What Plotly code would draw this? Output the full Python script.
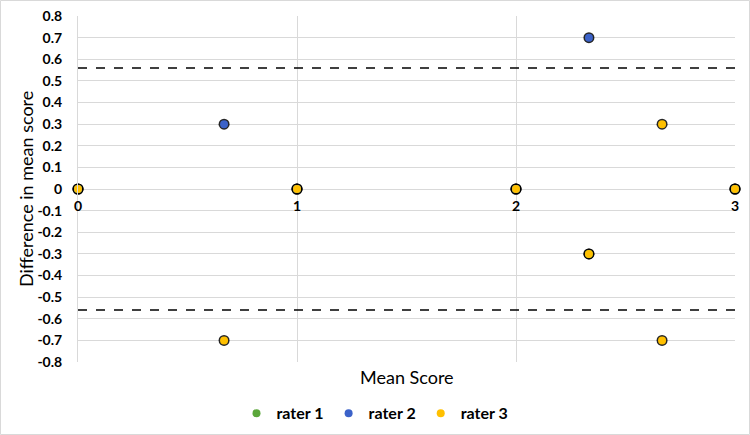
import plotly.graph_objects as go

# Data: (mean score, difference in mean score) per rater
rater1_mean = [0, 1, 2, 3, 2.333]
rater1_diff = [0, 0, 0, 0, -0.3]
rater2_mean = [0.667, 2.333, 0, 1, 2, 3]
rater2_diff = [0.3, 0.7, 0, 0, 0, 0]
rater3_mean = [0, 0.667, 1, 2, 2.333, 2.667, 2.667, 3]
rater3_diff = [0, -0.7, 0, 0, -0.3, 0.3, -0.7, 0]
upper_loa = 0.56
lower_loa = -0.56
y_ticks = [round(-0.8 + 0.1 * i, 1) for i in range(17)]
x_ticks = [0, 1, 2, 3]

series = [
    ("rater 1", rater1_mean, rater1_diff, "#5BA73A"),
    ("rater 2", rater2_mean, rater2_diff, "#3B62C9"),
    ("rater 3", rater3_mean, rater3_diff, "#FFC000"),
]

W, H = 750, 435
ML, MR, MT, MB = 78, 15, 16, 73
PW, PH = W - ML - MR, H - MT - MB

font_family = "Lato, 'Open Sans', sans-serif"
fig = go.Figure()

# shadows
for name, xs, ys, col in series:
    fig.add_trace(go.Scatter(x=xs, y=ys, mode="markers", showlegend=False, hoverinfo="skip",
                             marker=dict(size=11, color="rgba(0,0,0,0.85)"), cliponaxis=False))
for name, xs, ys, col in series:
    fig.add_trace(go.Scatter(x=xs, y=ys, mode="markers", name=name,
                             marker=dict(size=8, color=col), cliponaxis=False))

for v in (upper_loa, lower_loa):
    fig.add_shape(type="line", xref="x", yref="y", x0=0, x1=3, y0=v, y1=v,
                  line=dict(color="black", width=1.5, dash="dash"))

fig.update_layout(
    width=W, height=H,
    margin=dict(l=ML, r=MR, t=MT, b=MB, autoexpand=False),
    paper_bgcolor="white", plot_bgcolor="white",
    font=dict(family=font_family, color="black"),
    showlegend=True,
    legend=dict(orientation="h", x=0.5, xanchor="center", xref="container",
                y=0.05, yanchor="middle", yref="container",
                font=dict(size=16, family=font_family, weight="bold"), itemsizing="trace",
                traceorder="normal", itemwidth=30),
    xaxis=dict(range=[0, 3], tickvals=x_ticks, showgrid=True, gridcolor="#D9D9D9", gridwidth=1,
               zeroline=False, showline=False, anchor="free", position=0.5, automargin=False,
               tickfont=dict(size=14, weight="bold"), ticks="outside", ticklen=4,
               tickcolor="rgba(0,0,0,0)"),
    yaxis=dict(range=[-0.8, 0.8], tickvals=y_ticks, ticktext=[f"{v:g}" for v in y_ticks],
               showgrid=True, gridcolor="#D9D9D9", gridwidth=1, zeroline=True, zerolinecolor="#D9D9D9",
               zerolinewidth=1, showline=True, linecolor="#D9D9D9", automargin=False,
               tickfont=dict(size=14, weight="bold"), ticks="", ticklabelstandoff=12),
)
fig.add_annotation(text="Difference in mean score", xref="paper", yref="paper",
                   x=(26 - ML) / PW, y=0.5, textangle=-90, xanchor="center", yanchor="middle",
                   showarrow=False, font=dict(size=18))
fig.add_annotation(text="Mean Score", xref="paper", yref="paper", x=0.5, y=-0.005,
                   xanchor="center", yanchor="top", showarrow=False, font=dict(size=18))
fig.add_shape(type="rect", xref="paper", yref="paper",
              x0=(0.5 - ML) / PW, x1=(W - 0.5 - ML) / PW,
              y0=-(MB - 0.5) / PH, y1=(PH + MT - 0.5) / PH,
              line=dict(color="#D9D9D9", width=1), layer="below")

fig.write_html("out.html", config={"displayModeBar": False},
               post_script="document.body.style.margin='0px';document.body.style.overflow='hidden';")
